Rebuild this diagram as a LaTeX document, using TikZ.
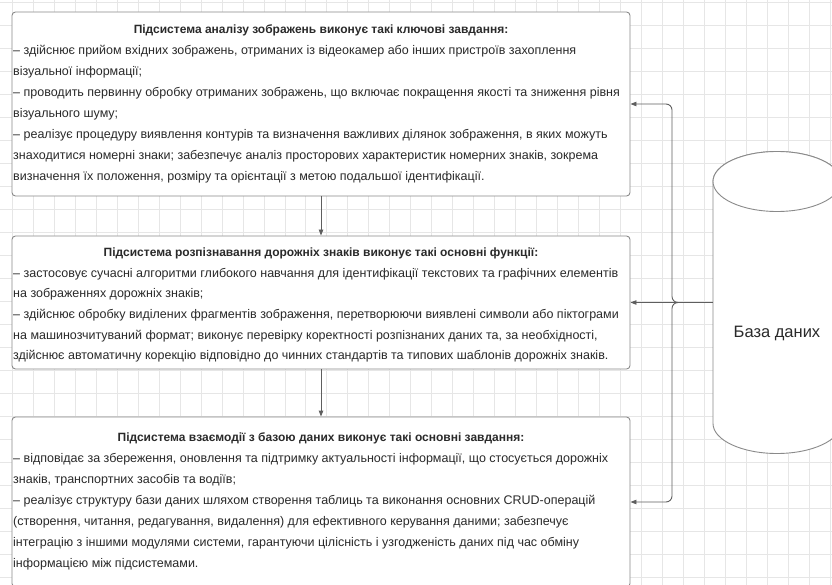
\documentclass[tikz,border=0pt]{standalone}
\usepackage{fontspec}
\setmainfont{Liberation Sans}
\usetikzlibrary{arrows.meta}
\definecolor{gridc}{HTML}{E6E6E6}
\definecolor{boxc}{HTML}{8A8A8A}
\definecolor{linec}{HTML}{5E5E5E}
\definecolor{txt}{HTML}{2A2A2A}
\tikzset{
  gridl/.style={draw=gridc, line width=0.8pt},
  box/.style={draw=boxc, fill=white, rounded corners=3.5, line width=0.9pt, minimum width=618, inner sep=0},
  ln/.style={anchor=base west, inner sep=0, font=\fontsize{12.5}{15}\selectfont, text=txt},
  ttl/.style={anchor=base, inner sep=0, font=\fontsize{12}{15}\selectfont\bfseries, text=txt},
  conn/.style={draw=linec, line width=0.9pt, rounded corners=6, -{Triangle[length=6pt,width=4.5pt]}},
  cyl/.style={draw=boxc, fill=white, line width=0.9pt},
  dbtxt/.style={inner sep=0, font=\fontsize{16.5}{19}\selectfont, text=txt},
}
\begin{document}
\begin{tikzpicture}[x=1pt,y=-1pt]
\useasboundingbox (0,0) rectangle (832,585);
\clip (0,0) rectangle (832,585);
\fill[white] (0,0) rectangle (832,585);
% grid
\foreach \i in {0,...,39} \draw[gridl] ({12.3+20.97*\i},0) -- ++(0,585);
\foreach \j in {0,...,25} \draw[gridl] (0,{2+23*\j}) -- ++(832,0);
% boxes
\node[box, minimum height=184] (b1) at (321,104) {};
\node[box, minimum height=133] (b2) at (321,302.5) {};
\node[box, minimum height=170] (b3) at (321,502) {};
% database
\node[inner sep=0, minimum width=128, minimum height=302] (db) at (777,302.5) {};
\draw[cyl] (713,181.5) -- (713,423.5) arc[start angle=180,end angle=0,x radius=64,y radius=30] -- (841,181.5) arc[start angle=0,end angle=-180,x radius=64,y radius=30] -- cycle;
\draw[cyl] (777,181.5) ellipse[x radius=64, y radius=30];
\node[dbtxt] (dbt) at (777,333) {База даних};
% box 1 text
\node[ttl] (t1) at (321,34) {Підсистема аналізу зображень виконує такі ключові завдання:};
\foreach \s [count=\i] in {
 {– здійснює прийом вхідних зображень, отриманих із відеокамер або інших пристроїв захоплення},
 {візуальної інформації;},
 {– проводить первинну обробку отриманих зображень, що включає покращення якості та зниження рівня},
 {візуального шуму;},
 {– реалізує процедуру виявлення контурів та визначення важливих ділянок зображення, в яких можуть},
 {знаходитися номерні знаки; забезпечує аналіз просторових характеристик номерних знаків, зокрема},
 {визначення їх положення, розміру та орієнтації з метою подальшої ідентифікації.}}
 \node[ln] (p1l\i) at (13,{34+21*\i}) {\s};
% box 2 text
\node[ttl] (t2) at (321,257) {Підсистема розпізнавання дорожніх знаків виконує такі основні функції:};
\foreach \s [count=\i] in {
 {– застосовує сучасні алгоритми глибокого навчання для ідентифікації текстових та графічних елементів},
 {на зображеннях дорожніх знаків;},
 {– здійснює обробку виділених фрагментів зображення, перетворюючи виявлені символи або піктограми},
 {на машинозчитуваний формат; виконує перевірку коректності розпізнаних даних та, за необхідності,},
 {здійснює автоматичну корекцію відповідно до чинних стандартів та типових шаблонів дорожніх знаків.}}
 \node[ln] (p2l\i) at (13,{257+20.5*\i}) {\s};
% box 3 text
\node[ttl] (t3) at (321,441) {Підсистема взаємодії з базою даних виконує такі основні завдання:};
\foreach \s [count=\i] in {
 {– відповідає за збереження, оновлення та підтримку актуальності інформації, що стосується дорожніх},
 {знаків, транспортних засобів та водіїв;},
 {– реалізує структуру бази даних шляхом створення таблиць та виконання основних CRUD-операцій},
 {(створення, читання, редагування, видалення) для ефективного керування даними; забезпечує},
 {інтеграцію з іншими модулями системи, гарантуючи цілісність і узгодженість даних під час обміну},
 {інформацією між підсистемами.}}
 \node[ln] (p3l\i) at (13,{441+21*\i}) {\s};
% connectors
\coordinate (jn) at (672,302.5);
\draw[conn] (b1.south) -- (b2.north);
\draw[conn] (b2.south) -- (b3.north);
\draw[conn] (db.west) -- (jn) |- (b1.east);
\draw[conn] (db.west) -- (b2.east);
\draw[conn] (db.west) -- (jn) |- (b3.east);
\end{tikzpicture}
\end{document}
